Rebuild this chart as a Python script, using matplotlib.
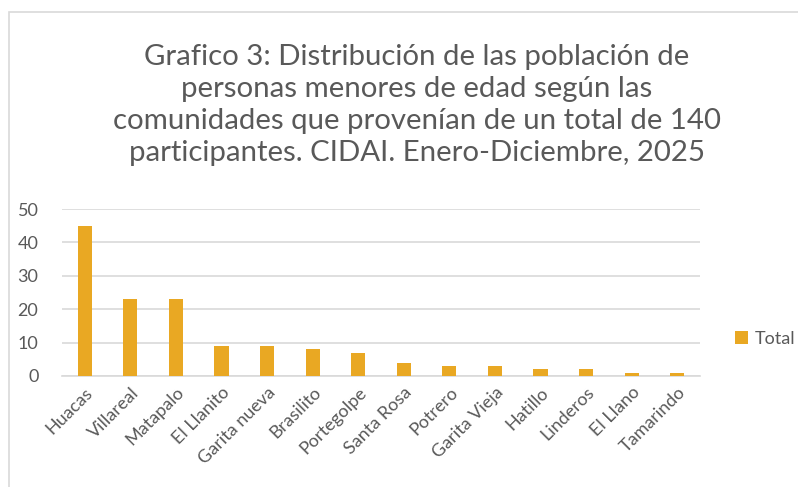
import matplotlib
matplotlib.use('Agg')
import matplotlib.pyplot as plt
from matplotlib.patches import Rectangle

comunidades = ['Huacas', 'Villareal', 'Matapalo', 'El Llanito', 'Garita nueva', 'Brasilito',
               'Portegolpe', 'Santa Rosa', 'Potrero', 'Garita Vieja', 'Hatillo', 'Linderos',
               'El Llano', 'Tamarindo']
total = [45, 23, 23, 9, 9, 8, 7, 4, 3, 3, 2, 2, 1, 1]
y_ticks = [0, 10, 20, 30, 40, 50]

titulo = ('Grafico 3: Distribución de las población de\n'
          'personas menores de edad según las\n'
          'comunidades que provenían de un total de 140\n'
          'participantes. CIDAI. Enero-Diciembre, 2025')

plt.rcParams['font.family'] = ['Lato', 'DejaVu Sans']
gris = '#595959'
naranja = '#E9A823'

fig = plt.figure(figsize=(7.98, 4.87), dpi=100)
fig.patches.append(Rectangle((9 / 798, -0.1), 1.2, 1 - 12 / 487 + 0.1, transform=fig.transFigure,
                             fill=False, edgecolor='#D9D9D9', linewidth=1.2))

ax = fig.add_axes([62 / 798, 1 - 376 / 487, 638 / 798, 167 / 487])
x = range(len(comunidades))
ax.bar(x, total, width=0.31, color=naranja, label='Total', zorder=3)
ax.set_xlim(-0.5, len(comunidades) - 0.5)
ax.set_ylim(0, 50)
ax.set_yticks(y_ticks)
ax.set_xticks(list(x))
ax.set_xticklabels(comunidades, rotation=45, ha='right', rotation_mode='anchor')
ax.tick_params(axis='both', length=0, labelsize=13, colors=gris)
ax.tick_params(axis='y', pad=17)
ax.tick_params(axis='x', pad=6)
ax.yaxis.grid(True, color='#D9D9D9', linewidth=1.2, zorder=0)
for s in ['top', 'right', 'left']:
    ax.spines[s].set_visible(False)
ax.spines['bottom'].set_color('#D9D9D9')
ax.spines['bottom'].set_linewidth(1.2)

fig.text(417 / 798, 1 - 105 / 487, titulo, ha='center', va='center', fontsize=21.2,
         color=gris, linespacing=1.3)

leg = fig.legend(loc='center left', bbox_to_anchor=(719 / 798, 1 - 339 / 487), frameon=False,
                 fontsize=13, handlelength=0.7, handleheight=0.7, handletextpad=0.4)
for t in leg.get_texts():
    t.set_color(gris)

fig.savefig('out.png', dpi=100)
